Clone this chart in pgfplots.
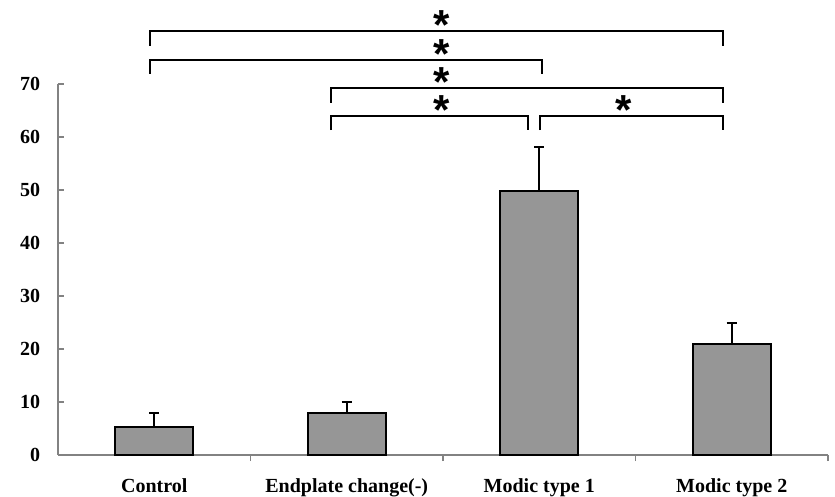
\documentclass[border=0pt]{standalone}
\usepackage{pgfplots}
\pgfplotsset{compat=1.18}
\usepackage{fontspec}
\setmainfont{Liberation Serif}
\newfontfamily\starfont{Liberation Sans}
\definecolor{bargray}{RGB}{150,150,150}
\definecolor{axgray}{RGB}{130,130,130}
\begin{document}
\begin{tikzpicture}
\useasboundingbox (-29bp,-21bp) rectangle (388.5bp,227.5bp);
\begin{axis}[
  scale only axis, width=385bp, height=185.5bp,
  xmin=-0.5, xmax=3.5, ymin=0, ymax=70,
  axis x line*=bottom, axis y line*=left,
  axis line style={axgray, line width=0.6bp, -},
  ytick={0,10,...,70},
  xtick={0.5,1.5,2.5,3.5}, xticklabels={},
  extra x ticks={0,1,2,3},
  extra x tick labels={Control,Endplate change(-),Modic type 1,Modic type 2},
  extra x tick style={major tick length=0pt},
  tick align=inside, major tick length=3bp,
  tick style={axgray, line width=0.6bp},
  ticklabel style={font=\fontsize{10bp}{12bp}\selectfont\bfseries},
  /pgf/number format/assume math mode=true,
  yticklabel style={xshift=-5.4bp},
  xticklabel style={anchor=base, yshift=-19bp},
  clip=false,
  ybar, bar width=39bp,
]
\addplot[fill=bargray, draw=black, line width=1bp,
  error bars/.cd, y dir=plus, y explicit,
  error bar style={line width=0.8bp, black},
  error mark options={rotate=90, mark size=2.5bp, line width=1bp, black}]
  coordinates {(0,5.2) +- (0,2.8) (1,7.9) +- (0,2.1) (2,49.9) +- (0,8.2) (3,20.9) +- (0,4.1)};
\draw[line width=1bp] (axis cs:-0.023,77.2) |- (axis cs:2.956,80.0) -- (axis cs:2.956,77.2);
\draw[line width=1bp] (axis cs:-0.023,71.9) |- (axis cs:2.012,74.5) -- (axis cs:2.012,71.9);
\draw[line width=1bp] (axis cs:0.92,66.5) |- (axis cs:2.956,69.2) -- (axis cs:2.956,66.5);
\draw[line width=1bp] (axis cs:0.92,61.3) |- (axis cs:1.94,64.0) -- (axis cs:1.94,61.3);
\draw[line width=1bp] (axis cs:2.005,61.3) |- (axis cs:2.956,64.0) -- (axis cs:2.956,61.3);
\begin{scope}[every node/.style={anchor=base, inner sep=0pt, font=\starfont\bfseries\fontsize{21bp}{22bp}\selectfont}]
\node at (axis cs:1.495,78.4) {*};
\node at (axis cs:1.495,73.0) {*};
\node at (axis cs:1.495,67.7) {*};
\node at (axis cs:1.495,62.3) {*};
\node at (axis cs:2.44,62.3) {*};
\end{scope}
\end{axis}
\end{tikzpicture}
\end{document}
